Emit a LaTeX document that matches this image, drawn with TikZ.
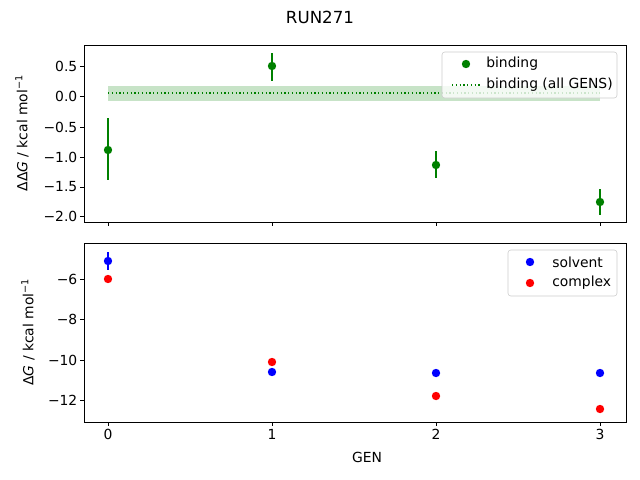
\documentclass[tikz,border=0pt]{standalone}
\usepackage{fontspec}
\setmainfont{DejaVu Sans}
\tikzset{
  axisframe/.style={line width=0.6pt},
  tickmark/.style={line width=0.6pt},
  errbar/.style={green!50!black,line width=1.1pt},
  gdot/.style={fill=green!50!black,draw=none},
  meanline/.style={green!50!black,line width=0.9pt,dash pattern=on 1pt off 1.7pt},
}
\begin{document}
\begin{tikzpicture}[x=0.72pt,y=-0.72pt,font=\fontsize{10}{12}\selectfont]
\useasboundingbox (0,0) rectangle (640,480);

% Title and x label
\node [font=\fontsize{12}{14}\selectfont] (title) at (320,17) {RUN271};
\node (xlab) at (367,457) {GEN};

%%%%%%%%%%%%%%%%%%%%%% TOP AXES %%%%%%%%%%%%%%%%%%%%%%
% band and mean line
\fill [green!50!black,opacity=0.22] (108,86) rectangle (600,101);
\draw [meanline] (108,93) to (600,93);

% error bars and points
\foreach \g/\y/\lo/\hi in {0/150/118/180, 1/66/53/81, 2/165/151/178, 3/202/189/215}{
  \draw [errbar] (108+164*\g,\lo) to (108+164*\g,\hi);
  \fill [gdot] (108+164*\g,\y) circle (4.2);
}

\draw [axisframe] (84,45) rectangle (626,222);
% y ticks
\foreach \v/\y in {0.5/66, 0.0/96, −0.5/127, −1.0/157, −1.5/187, −2.0/216}{
  \draw [tickmark] (84,\y) to (80,\y);
  \node [left,inner sep=1pt] at (79,\y) {\v};
}
\foreach \g in {0,...,3}
  \draw [tickmark] (108+164*\g,222) to (108+164*\g,226);
\node [rotate=90] (ylabtop) at (22,133) {ΔΔ\textit{G} / kcal mol\textsuperscript{−1}};

% legend
\draw [fill=white,fill opacity=0.8,draw=gray!40,rounded corners=2pt] (442,52) rectangle (617,98);
\fill [gdot] (466,64) circle (4.2);
\node [right,inner sep=0pt] at (486,64) {binding};
\draw [meanline] (452,85) to (480,85);
\node [right,inner sep=0pt] at (486,85) {binding (all GENS)};

%%%%%%%%%%%%%%%%%%%%%% BOTTOM AXES %%%%%%%%%%%%%%%%%%%%%%
\draw [blue,line width=1.1pt] (108,252) to (108,270);
\foreach \g/\ys/\yc in {0/261/279, 1/372/362, 2/373/396, 3/373/409}{
  \fill [blue] (108+164*\g,\ys) circle (4.2);
  \fill [red] (108+164*\g,\yc) circle (4.2);
}

\draw [axisframe] (84,243) rectangle (626,422);
\foreach \v/\y in {−6/279, −8/319, −10/360, −12/400}{
  \draw [tickmark] (84,\y) to (80,\y);
  \node [left,inner sep=1pt] at (79,\y) {\v};
}
\foreach \g in {0,...,3}{
  \draw [tickmark] (108+164*\g,422) to (108+164*\g,426);
  \node [below,inner sep=1pt] at (108+164*\g,428) {\g};
}
\node [rotate=90] (ylabbot) at (28,332) {Δ\textit{G} / kcal mol\textsuperscript{−1}};

% legend
\draw [fill=white,fill opacity=0.8,draw=gray!40,rounded corners=2pt] (508,250) rectangle (617,296);
\fill [blue] (530,262) circle (4.2);
\node [right,inner sep=0pt] at (552,262) {solvent};
\fill [red] (530,283) circle (4.2);
\node [right,inner sep=0pt] at (552,283) {complex};

\end{tikzpicture}
\end{document}
